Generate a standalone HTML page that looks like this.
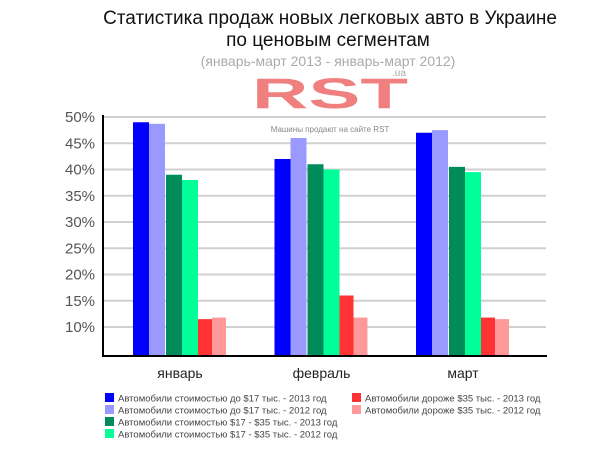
<!DOCTYPE html>
<html><head><meta charset="utf-8"><style>
body{margin:0;background:#fff;width:600px;height:450px;overflow:hidden;font-family:"Liberation Sans",sans-serif}
</style></head><body>
<svg width="600" height="450" xmlns="http://www.w3.org/2000/svg">
<text x="330" y="24" text-anchor="middle" font-size="19" fill="#111">Статистика продаж новых легковых авто в Украине</text>
<text x="328" y="46" text-anchor="middle" font-size="19" fill="#111">по ценовым сегментам</text>
<text x="328" y="66" text-anchor="middle" font-size="14" fill="#aaa">(январь-март 2013 - январь-март 2012)</text>
<text x="252" y="108" font-size="43" font-weight="bold" fill="#f08080" textLength="156" lengthAdjust="spacingAndGlyphs">RST</text>
<text x="392" y="76" font-size="10" fill="#aaa">.ua</text>
<g id="grid"></g>
<g id="bars"></g>
<text x="330" y="132" text-anchor="middle" font-size="8" fill="#888">Машины продают на сайте RST</text>
<line x1="103" y1="115" x2="103" y2="357" stroke="#000" stroke-width="2"/>
<line x1="102" y1="356" x2="547" y2="356" stroke="#000" stroke-width="2"/>
<g id="legend"></g>
</svg>
<script>
const categories=["январь","февраль","март"];
const seriesNames=["Автомобили стоимостью до $17 тыс. - 2013 год","Автомобили стоимостью до $17 тыс. - 2012 год","Автомобили стоимостью $17 - $35 тыс. - 2013 год","Автомобили стоимостью $17 - $35 тыс. - 2012 год","Автомобили дороже $35 тыс. - 2013 год","Автомобили дороже $35 тыс. - 2012 год"];
const under17_2013=[49,42,47];
const under17_2012=[48.7,46,47.5];
const mid_2013=[39,41,40.5];
const mid_2012=[38,40,39.5];
const over35_2013=[11.5,16,11.8];
const over35_2012=[11.8,11.8,11.5];
const yTicks=[10,15,20,25,30,35,40,45,50];
const colors=["#0000ff","#9999ff","#008b5b","#00ff99","#ff3333","#ff9999"];
const series=[under17_2013,under17_2012,mid_2013,mid_2012,over35_2013,over35_2012];
const NS="http://www.w3.org/2000/svg";
function y(v){return 327-(v-10)*26.25/5;}
function groupX(i){return 133+i*141.5;}
const offs=[0,16,33,49,65,79],widths=[16,16,16,16,14,14];
function mk(t,a,p){const e=document.createElementNS(NS,t);for(const k in a)e.setAttribute(k,a[k]);p.appendChild(e);return e;}
const grid=document.getElementById('grid');
yTicks.forEach(v=>{
 const l=mk('line',{x1:103,x2:546,y1:y(v),y2:y(v),stroke:'#d0d0d0','stroke-width':2},grid);
 
 
 const t=mk('text',{x:65,y:y(v)+5,'font-size':15,fill:'#555'},grid);t.textContent=v+'%';
 
 
});
const bars=document.getElementById('bars');
categories.forEach((c,i)=>{
 series.forEach((s,j)=>{
  const r=mk('rect',{x:groupX(i)+offs[j],y:y(s[i]),width:widths[j],height:356-y(s[i]),fill:colors[j]},bars);
  
  
 });
 const t=mk('text',{x:groupX(i)+47,y:378,'text-anchor':'middle','font-size':14,fill:'#222'},bars);t.textContent=c;
 
 
});
const lg=document.getElementById('legend');
seriesNames.forEach((n,j)=>{
 const col=j<4?0:1,row=j<4?j:j-4;
 const x=col?352:105,yy=393+row*12;
 const r=mk('rect',{x:x,y:yy,width:9,height:9,fill:colors[j]},lg);
 
 
 const t=mk('text',{x:x+13,y:yy+8.5,'font-size':9.5,fill:'#444'},lg);t.textContent=n;
 
 
});
</script>
</body></html>
